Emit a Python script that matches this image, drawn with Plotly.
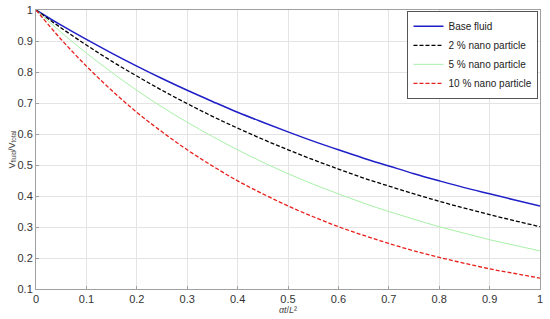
import plotly.graph_objects as go

# dimensionless time alpha*t/L^2
t = [0.0, 0.05, 0.1, 0.15, 0.2, 0.25, 0.3, 0.35, 0.4, 0.45, 0.5,
     0.55, 0.6, 0.65, 0.7, 0.75, 0.8, 0.85, 0.9, 0.95, 1.0]

base_fluid = [1.0, 0.951, 0.905, 0.861, 0.819, 0.779, 0.741, 0.705, 0.670, 0.638, 0.607,
              0.577, 0.549, 0.522, 0.497, 0.472, 0.449, 0.427, 0.407, 0.387, 0.368]
nano_2 = [1.0, 0.942, 0.887, 0.835, 0.787, 0.741, 0.698, 0.657, 0.619, 0.583, 0.549,
          0.517, 0.487, 0.458, 0.432, 0.407, 0.383, 0.361, 0.340, 0.320, 0.301]
nano_5 = [1.0, 0.928, 0.861, 0.799, 0.741, 0.687, 0.638, 0.592, 0.549, 0.509, 0.472,
          0.438, 0.407, 0.377, 0.350, 0.325, 0.301, 0.280, 0.259, 0.241, 0.223]
nano_10 = [1.0, 0.905, 0.819, 0.741, 0.670, 0.607, 0.549, 0.497, 0.449, 0.407, 0.368,
           0.333, 0.301, 0.273, 0.247, 0.223, 0.202, 0.183, 0.165, 0.150, 0.135]

fig = go.Figure()
fig.add_scatter(x=t, y=base_fluid, mode="lines", name="Base fluid",
                line=dict(color="#1f1fc8", width=1.5, shape="spline"))
fig.add_scatter(x=t, y=nano_2, mode="lines", name="2 % nano particle",
                line=dict(color="black", width=1.3, dash="4px,2px", shape="spline"))
fig.add_scatter(x=t, y=nano_5, mode="lines", name="5 % nano particle",
                line=dict(color="#a8f0a8", width=1, shape="spline"))
fig.add_scatter(x=t, y=nano_10, mode="lines", name="10 % nano particle",
                line=dict(color="#e8201c", width=1.3, dash="4px,2px", shape="spline"))

axis_style = dict(showline=True, linecolor="#a0a0a0", linewidth=1, mirror=True,
                  showgrid=True, gridcolor="#e4e4e4", gridwidth=1, zeroline=False,
                  ticks="inside", ticklen=3, tickcolor="#a0a0a0", automargin=False,
                  ticklabeloverflow="allow", tickmode="linear", dtick=0.1,
                  tickfont=dict(family="Liberation Sans, Arial", size=11, color="#333"))

fig.update_xaxes(range=[0, 1], tick0=0,
                 title=dict(text="<i>αt</i>/<i>L</i>²", font=dict(size=9, color="#444"), standoff=0),
                 **axis_style)
fig.update_yaxes(range=[0.1, 1], tick0=0.1,
                 title=dict(text="V<sub>fluid</sub>/V<sub>total</sub>", font=dict(size=9, color="#444"), standoff=0),
                 **axis_style)

fig.update_layout(
    width=550, height=319,
    margin=dict(l=36, r=10, t=10, b=30),
    plot_bgcolor="white", paper_bgcolor="white",
    font=dict(family="Liberation Sans, Arial", color="#333"),
    legend=dict(x=0.997, y=0.997, xanchor="right", yanchor="top",
                bgcolor="white", bordercolor="#555", borderwidth=1,
                font=dict(size=10, color="#222"), tracegroupgap=0,
                itemwidth=30),
    showlegend=True,
)

# drop the default page margin so the 550x319 figure fits the window exactly
fig.write_html("out.html", config={"displayModeBar": False},
               post_script="document.body.style.margin='0';document.body.style.overflow='hidden';")
